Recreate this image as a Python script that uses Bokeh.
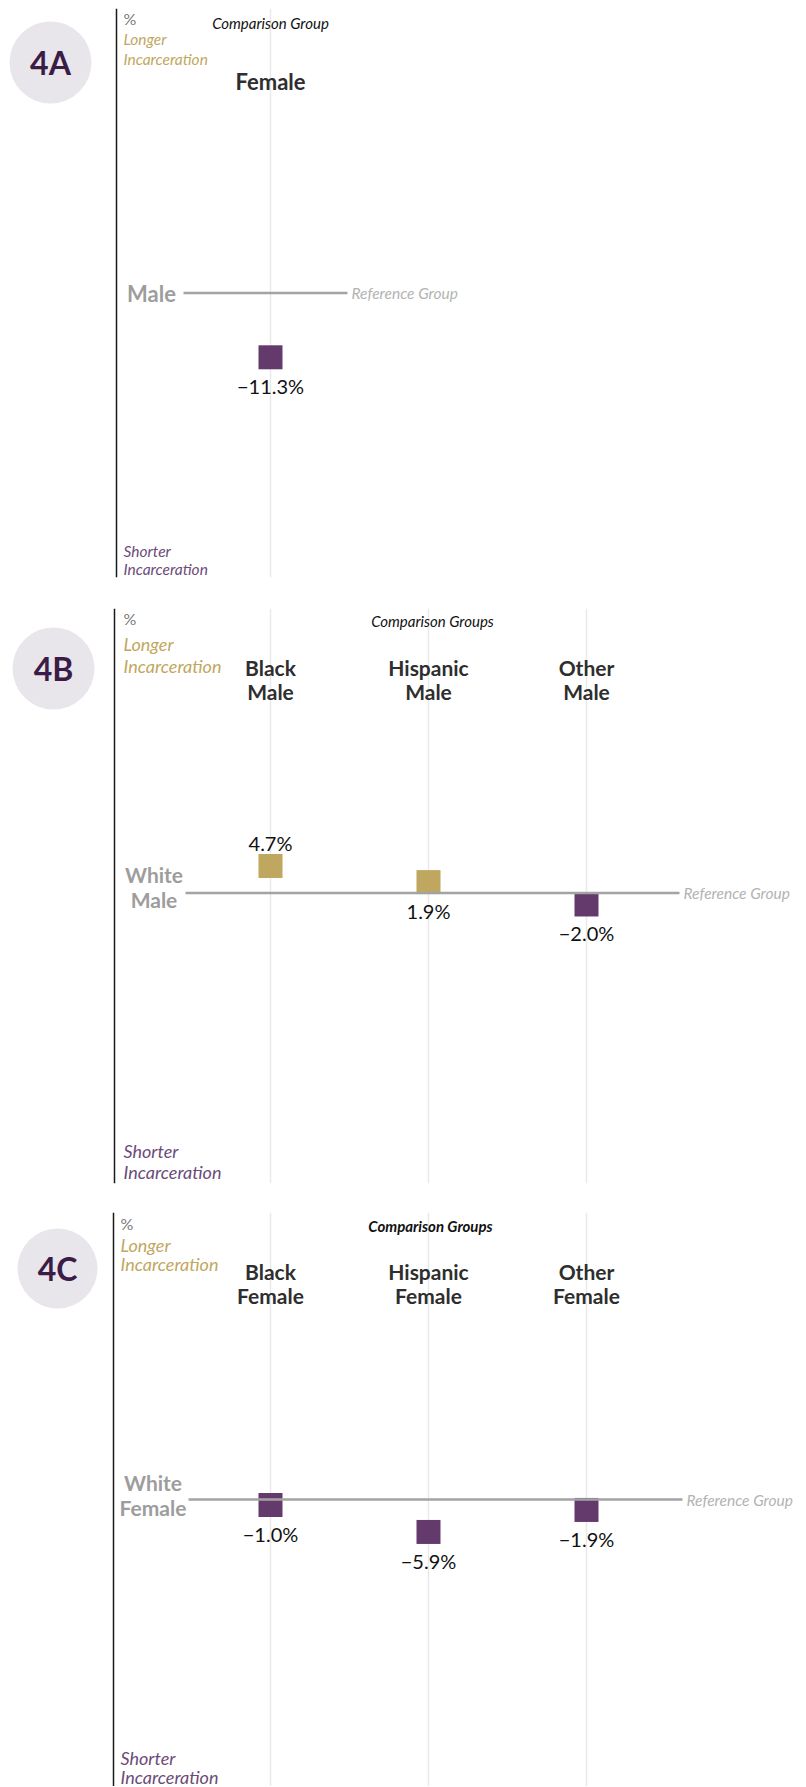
from bokeh.plotting import figure
from bokeh.models import Range1d, Span
from bokeh.layouts import column
from bokeh.embed import file_html
from bokeh.resources import INLINE
from bokeh.core.properties import value

# ---------------- data ----------------
panel_ids = ["4A", "4B", "4C"]
comparison_titles = ["Comparison Group", "Comparison Groups", "Comparison Groups"]

a_reference = "Male"
a_groups = ["Female"]
a_values = [-11.3]

b_reference = "White\nMale"
b_groups = ["Black\nMale", "Hispanic\nMale", "Other\nMale"]
b_values = [4.7, 1.9, -2.0]

c_reference = "White\nFemale"
c_groups = ["Black\nFemale", "Hispanic\nFemale", "Other\nFemale"]
c_values = [-1.0, -5.9, -1.9]

longer_label = ["Longer", "Incarceration"]
shorter_label = ["Shorter", "Incarceration"]
reference_text = "Reference Group"

# ---------------- style ----------------
GOLD = "#bfa75f"
PURPLE = "#643a6d"
GRAY_LABEL = "#9d9d9d"
REF_LINE = "#a3a3a3"
GRID = "#e9e9e9"
FONT = value("Lato")
PX_PER_UNIT = 158.0
PAGE_W = 806

# label placement relative to square (style, not data)
a_sides = ["below"]
b_sides = ["above", "below", "below"]
c_sides = ["below", "below", "below"]

layouts = [
    dict(T=8, H=569, bt=8, bb=31, zero=292.5, s=5.69, x1=270, axis=116, pct=(123, 18),
         longer=(123, 38, 58, 15.5), title=(270, 22), cat_y=81, cat_size=22,
         ref_x=151, ref_size=22, ref_yoff=0, line=(183, 347),
         shorter=(123, 550, 568, 15.5), badge=(50, 62, 82)),
    dict(T=608, H=575, bt=0, bb=29, zero=892.5, s=5.74, x1=270, axis=114, pct=(123, 618),
         longer=(123, 643, 665, 18), title=(432, 620), cat_y=679, cat_size=21,
         ref_x=153.5, ref_size=21, ref_yoff=-6, line=(185, 679),
         shorter=(123, 1150, 1171, 18), badge=(53, 668, 82)),
    dict(T=1212, H=574, bt=0, bb=0, zero=1499, s=5.5, x1=270, axis=113, pct=(120, 1223),
         longer=(120, 1244, 1263, 18), title=(430, 1225), cat_y=1283, cat_size=21,
         ref_x=152.5, ref_size=21, ref_yoff=-5, line=(188, 682),
         shorter=(120, 1757, 1776, 18), badge=(57, 1268, 80)),
]


def fmt(v):
    return f"{v:.1f}%".replace("-", "\u2212")


def txt(p, xs, ys, texts, size, color, style="normal", align="center",
        baseline="middle", lh=1.2, yoff=0):
    p.text(x=xs, y=ys, text=texts, text_font=FONT, text_font_size=f"{size}px",
           text_color=color, text_font_style=style, text_align=align,
           text_baseline=baseline, text_line_height=lh, y_offset=yoff)


def make_panel(pid, title, ref_label, groups, values, sides, L, title_style):
    x_start = 1 - L["x1"] / PX_PER_UNIT
    X = lambda px: x_start + px / PX_PER_UNIT
    Y = lambda py: (L["zero"] - py) / L["s"]
    T, H = L["T"], L["H"]
    p = figure(width=PAGE_W, height=H + L["bb"] + L["bt"],
               x_range=Range1d(x_start, x_start + PAGE_W / PX_PER_UNIT),
               y_range=Range1d(Y(T + H), Y(T)),
               output_backend="svg", toolbar_location=None,
               x_axis_type=None, y_axis_type=None,
               min_border=0, min_border_bottom=L["bb"], min_border_top=L["bt"])
    p.outline_line_color = None
    p.background_fill_color = "white"
    p.border_fill_color = "white"

    xs = [i + 1 for i in range(len(groups))]
    # vertical grid lines at each comparison group
    for x in xs:
        p.add_layout(Span(location=x, dimension="height", line_color=GRID,
                          line_width=1.5, level="underlay"))
    # vertical axis line
    p.add_layout(Span(location=X(L["axis"]), dimension="height",
                      line_color="#1a1a1a", line_width=1.5))

    # badge
    bx, by, bd = L["badge"]
    p.scatter(x=[X(bx)], y=[Y(by)], size=bd, marker="circle",
              fill_color="#e8e6ea", line_color=None)
    txt(p, [X(bx)], [Y(by)], [pid], 32, "#3a1c47", style="bold")

    # axis annotations
    txt(p, [X(L["pct"][0])], [Y(L["pct"][1])], ["%"], 16, "#7a7a7a", align="left")
    lx, ly1, ly2, lsz = L["longer"]
    txt(p, [X(lx), X(lx)], [Y(ly1), Y(ly2)], longer_label, lsz, GOLD,
        style="italic", align="left")
    sx, sy1, sy2, ssz = L["shorter"]
    txt(p, [X(sx), X(sx)], [Y(sy1), Y(sy2)], shorter_label, ssz, "#6b4b78",
        style="italic", align="left")

    # title
    txt(p, [X(L["title"][0])], [Y(L["title"][1])], [title], 15, "#111111",
        style=title_style)

    # comparison group names
    txt(p, xs, [Y(L["cat_y"])] * len(xs), groups, L["cat_size"], "#2e2e2e",
        style="bold", lh=0.98)

    # squares
    colors = [GOLD if v > 0 else PURPLE for v in values]
    p.scatter(x=xs, y=values, size=24, marker="square", fill_color=colors,
              line_color=None)

    # reference line at 0
    x0, x1 = L["line"]
    p.segment(x0=[X(x0)], y0=[0], x1=[X(x1)], y1=[0], line_color=REF_LINE,
              line_width=2.5)
    txt(p, [X(x1 + 4)], [0], [reference_text], 15.5, "#b3b3b3",
        style="italic", align="left")
    txt(p, [X(L["ref_x"])], [0], [ref_label], L["ref_size"], GRAY_LABEL,
        style="bold", lh=1.0, yoff=L["ref_yoff"])

    # value labels
    for x, v, side in zip(xs, values, sides):
        off = 29 if side == "below" else -23
        txt(p, [x], [v], [fmt(v)], 20, "#111111", yoff=off)
    return p


pa = make_panel(panel_ids[0], comparison_titles[0], a_reference, a_groups,
                a_values, a_sides, layouts[0], "italic")
pb = make_panel(panel_ids[1], comparison_titles[1], b_reference, b_groups,
                b_values, b_sides, layouts[1], "italic")
pc = make_panel(panel_ids[2], comparison_titles[2], c_reference, c_groups,
                c_values, c_sides, layouts[2], "bold italic")

layout = column(pa, pb, pc, spacing=0)
open("out.html", "w").write(file_html(layout, INLINE))
